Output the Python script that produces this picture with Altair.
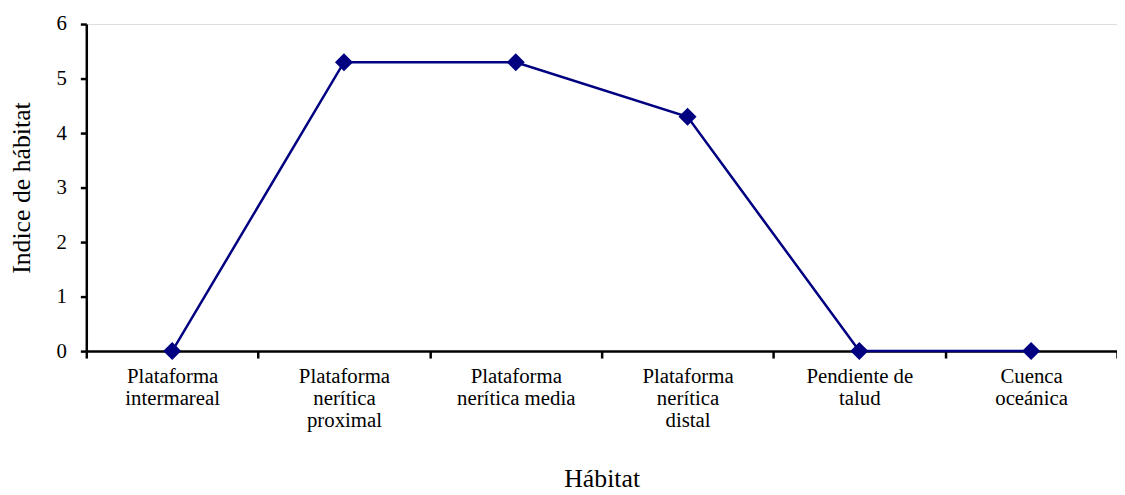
import altair as alt
import pandas as pd

categories = [
    "Plataforma|intermareal",
    "Plataforma|nerítica|proximal",
    "Plataforma|nerítica media",
    "Plataforma|nerítica|distal",
    "Pendiente de|talud",
    "Cuenca|oceánica",
]
values = [0, 5.3, 5.3, 4.3, 0, 0]

df = pd.DataFrame({"habitat": categories, "indice": values})

FONT = "Liberation Serif"
COLOR = "#000080"

x = alt.X(
    "habitat:N",
    sort=categories,
    title="Hábitat",
    scale=alt.Scale(paddingInner=0, paddingOuter=0),
    axis=alt.Axis(
        labelAngle=0,
        labelExpr="split(datum.label, '|')",
        labelFont=FONT,
        labelFontSize=21,
        labelColor="black",
        labelLineHeight=22,
        labelPadding=8,
        labelBaseline="top",
        tickBand="extent",
        tickSize=7,
        tickWidth=2.5,
        tickColor="black",
        domainColor="black",
        domainWidth=2.5,
        titleFont=FONT,
        titleFontSize=26,
        titleFontWeight="normal",
        titleColor="black",
        titlePadding=36,
    ),
)

y = alt.Y(
    "indice:Q",
    title="Indice de hábitat",
    scale=alt.Scale(domain=[0, 6], nice=False),
    axis=alt.Axis(
        values=[0, 1, 2, 3, 4, 5, 6],
        grid=False,
        labelFont=FONT,
        labelFontSize=21,
        labelColor="black",
        labelPadding=14,
        tickSize=6,
        tickWidth=2.5,
        tickColor="black",
        domainColor="black",
        domainWidth=2.5,
        titleFont=FONT,
        titleFontSize=26,
        titleFontWeight="normal",
        titleColor="black",
        titlePadding=22,
    ),
)

base = alt.Chart(df).encode(x=x, y=y)

line = base.mark_line(color=COLOR, strokeWidth=2.5)
points = base.mark_point(shape="diamond", filled=True, color=COLOR, size=330, opacity=1)

chart = (
    (line + points)
    .properties(
        width=1040,
        height=330,
        autosize=alt.AutoSizeParams(type="none"),
        padding={"left": 79, "top": 14, "right": 0, "bottom": 143},
    )
    .configure_view(stroke=None)
    .configure(background="white")
)

chart.save("out.html", embed_options={"renderer": "svg", "actions": False})
